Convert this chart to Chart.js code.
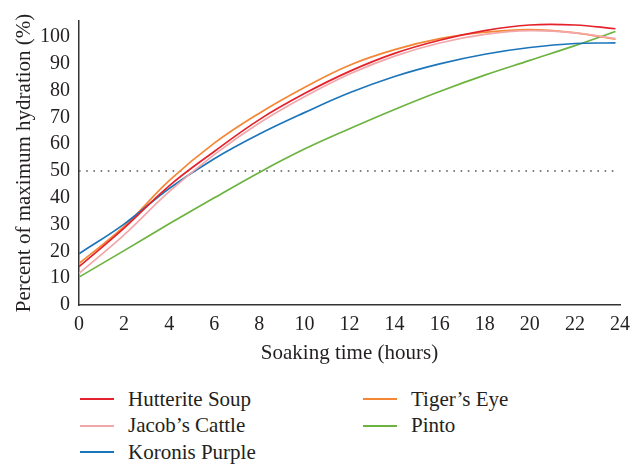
<!DOCTYPE html>
<html>
<head>
<meta charset="utf-8">
<script src="https://cdn.jsdelivr.net/npm/chart.js@4"></script>
<style>
  body { margin: 0; background: #fff; }
  #wrap { position: relative; width: 642px; height: 464px; }
  #legend {
    position: absolute; left: 80px; top: 386px;
    display: grid; grid-auto-flow: column;
    grid-template-columns: 283px 200px; grid-template-rows: repeat(3, 26.5px);
    font: 21px "Liberation Serif"; color: #231f20;
  }
  .item { display: flex; align-items: center; white-space: nowrap; }
  .swatch { width: 34px; height: 2px; margin-right: 14px; }
</style>
</head>
<body>
<div id="wrap">
  <canvas id="chart" width="642" height="375"></canvas>
  <div id="legend"></div>
</div>
<script>
// soaking time (hours) and % of maximum hydration
const hours = [0, 2, 4, 6, 8, 10, 12, 14, 16, 18, 20, 22, 23.8];
const hutteriteSoup = [14.3, 28.7, 44.5, 57.3, 69.2, 78.9, 87.2, 93.9, 98.8, 102.4, 104.5, 104.5, 103.1];
const jacobsCattle  = [11.8, 26.2, 42.3, 56.1, 67.9, 77.7, 86.2, 92.9, 97.8, 101.0, 102.4, 101.6, 99.4];
const koronisPurple = [19.1, 30.2, 43.5, 54.6, 63.8, 71.8, 79.2, 85.3, 90.0, 93.6, 96.1, 97.6, 97.8];
const tigersEye     = [15.5, 29.3, 46.4, 60.4, 71.6, 81.2, 89.5, 95.3, 99.4, 101.8, 102.8, 101.6, 99.2];
const pinto         = [10.4, 20.3, 30.3, 40.0, 49.5, 58.2, 65.8, 73.0, 79.7, 85.8, 91.3, 96.8, 102.1];
const halfLine = 50;
const xTicks = [0, 2, 4, 6, 8, 10, 12, 14, 16, 18, 20, 22, 24];
const yTicks = [0, 10, 20, 30, 40, 50, 60, 70, 80, 90, 100];

const font = 'Liberation Serif';
const ink = '#231f20';

const pts = vals => vals.map((v, i) => ({ x: hours[i], y: v }));
const series = (label, vals, color) => ({
  label, data: pts(vals), borderColor: color, backgroundColor: color,
  borderWidth: 1.7, pointRadius: 0, tension: 0.4, legend: true
});

const datasets = [
  series('Hutterite Soup', hutteriteSoup, '#e3222b'),
  series('Jacob\u2019s Cattle', jacobsCattle, '#f2a7aa'),
  series('Koronis Purple', koronisPurple, '#1b75bb'),
  series('Tiger\u2019s Eye', tigersEye, '#f58634'),
  series('Pinto', pinto, '#6cb33f'),
  {
    label: '50%', data: [{ x: hours[0], y: halfLine }, { x: hours[hours.length - 1], y: halfLine }],
    borderColor: '#555', borderWidth: 1.6, borderDash: [1.6, 5.6], pointRadius: 0, legend: false
  }
];

const chart = new Chart(document.getElementById('chart'), {
  type: 'line',
  data: { datasets },
  options: {
    responsive: false,
    animation: false,
    layout: { padding: { top: 15, right: 22, left: 0, bottom: 0 } },
    plugins: { legend: { display: false }, tooltip: { enabled: false } },
    scales: {
      x: {
        type: 'linear', min: 0, max: 24,
        afterBuildTicks: a => { a.ticks = xTicks.map(v => ({ value: v })); },
        afterFit: a => { a.height = 70; },
        grid: { display: false, drawTicks: false },
        border: { display: true, color: '#333', width: 1.5 },
        ticks: { color: ink, font: { family: font, size: 20 }, padding: 8, maxRotation: 0 },
        title: { display: true, text: 'Soaking time (hours)', color: ink,
                 font: { family: font, size: 21, lineHeight: 1.2 }, padding: { top: 0, bottom: 9 } }
      },
      y: {
        min: 0, max: 106,
        afterBuildTicks: a => { a.ticks = yTicks.map(v => ({ value: v })); },
        afterFit: a => { a.width = 79; },
        grid: { display: false, drawTicks: false },
        border: { display: true, color: '#333', width: 1.5 },
        ticks: { color: ink, font: { family: font, size: 20 }, padding: 9 },
        title: { display: true, text: 'Percent of maximum hydration (%)', color: ink,
                 font: { family: font, size: 21, lineHeight: 1.2 }, padding: { top: 12, bottom: 0 } }
      }
    }
  }
});

// two-column legend, filled column by column
const legend = document.getElementById('legend');
chart.data.datasets.filter(d => d.legend).forEach(d => {
  const item = document.createElement('div');
  item.className = 'item';
  item.innerHTML = '<span class="swatch" style="background:' + d.borderColor + '"></span>' + d.label;
  legend.appendChild(item);
});
</script>
</body>
</html>
